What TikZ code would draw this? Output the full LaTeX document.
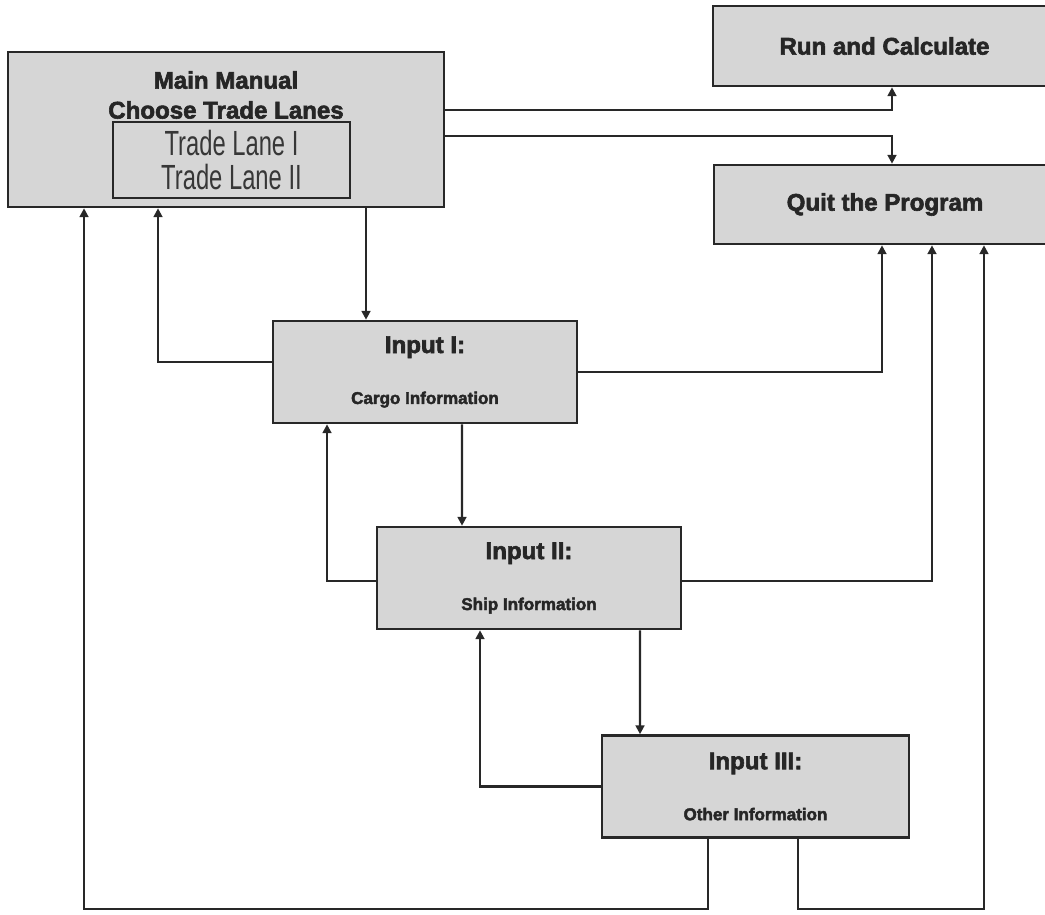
\documentclass[tikz,border=0pt]{standalone}
\usepackage{fontspec}
\setmainfont{Liberation Sans}
\newfontfamily\gruesa[FakeBold=2.5]{Liberation Sans Bold}
\newfontfamily\estrecha[FakeStretch=0.68]{Liberation Sans}
\usepackage{tikz}
\usetikzlibrary{positioning,arrows.meta}
\definecolor{relleno}{RGB}{214,214,214}
\definecolor{borde}{RGB}{40,40,40}
\definecolor{letra}{RGB}{55,55,55}

\begin{document}
\begin{tikzpicture}[x=0.02cm, y=-0.02cm,
  caja/.style={draw=borde, fill=relleno, line width=1.5pt, inner sep=0pt,
    align=center, text=black!85},
  grande/.style={font=\gruesa\fontsize{13.7}{16}\selectfont},
  entrada/.style={caja, grande, minimum width=6.08cm, minimum height=2.04cm},
  lista/.style={draw=borde, fill=relleno, line width=1.1pt, inner sep=0pt,
    align=center, text=letra, font=\estrecha\fontsize{19.9}{19.9}\selectfont},
  flecha/.style={draw=borde, line width=1.2pt,
    -{Triangle[length=5pt,width=5pt]}},
]
  \useasboundingbox (0,0) rectangle (1045,914);
  % ---- Menu principal ----
  \node[caja, minimum width=8.72cm, minimum height=3.10cm] (main) at (226,129.5) {};
  \node[grande, align=center, text=black!85,
    font=\gruesa\fontsize{13.7}{17}\selectfont] (mainT) at (226,95)
    {Main Manual\\Choose Trade Lanes};
  \node[lista, minimum width=4.74cm, minimum height=1.52cm] (lanes) at (231.5,160)
    {Trade Lane I\\Trade Lane II};
  % ---- Salidas (derecha) ----
  \node[caja, grande, minimum width=6.86cm, minimum height=1.6cm] (run) at (884.5,46)
    {Run and Calculate};
  \node[caja, grande, minimum width=6.84cm, minimum height=1.58cm] (quit) at (885,204.5)
    {Quit the Program};
  % ---- Entradas (escalera) ----
  \node[entrada] (in1) at (425,372)
    {Input I:\\[13pt]{\fontsize{9.7}{11}\selectfont Cargo Information}};
  \node[entrada] (in2) at (529,578)
    {Input II:\\[13pt]{\fontsize{9.7}{11}\selectfont Ship Information}};
  \node[entrada, minimum width=6.14cm] (in3) at (755.5,786.5)
    {Input III:\\[13pt]{\fontsize{9.7}{11}\selectfont Other Information}};
  % ---- Conexiones ----
  \draw[flecha] ([yshift=0.39cm]main.east) -| ([xshift=0.15cm]run.south);
  \draw[flecha] ([yshift=-0.13cm]main.east) -| ([xshift=0.14cm]quit.north);
  \draw[flecha] ([xshift=-1.18cm]in1.north |- main.south) -- ([xshift=-1.18cm]in1.north);
  \draw[flecha] ([yshift=0.2cm]in1.west) -| ([xshift=-1.36cm]main.south);
  \draw[flecha] (in1.east) -| ([xshift=-0.06cm]quit.south);
  \draw[flecha] ([xshift=0.74cm]in1.south) -- ([xshift=-1.34cm]in2.north);
  \draw[flecha] ([yshift=-0.06cm]in2.west) -| ([xshift=-1.96cm]in1.south);
  \draw[flecha] ([yshift=-0.06cm]in2.east) -| ([xshift=0.94cm]quit.south);
  \draw[flecha] ([xshift=2.22cm]in2.south) -- ([xshift=-2.31cm]in3.north);
  \draw[flecha] (in3.west) -| ([xshift=-0.98cm]in2.south);
  % vueltas por abajo
  \draw[flecha] ([xshift=-0.95cm]in3.south) -- ++(0,70) -| ([xshift=-2.84cm]main.south);
  \draw[flecha] ([xshift=0.85cm]in3.south) -- ++(0,70) -| ([xshift=1.98cm]quit.south);
\end{tikzpicture}
\end{document}
